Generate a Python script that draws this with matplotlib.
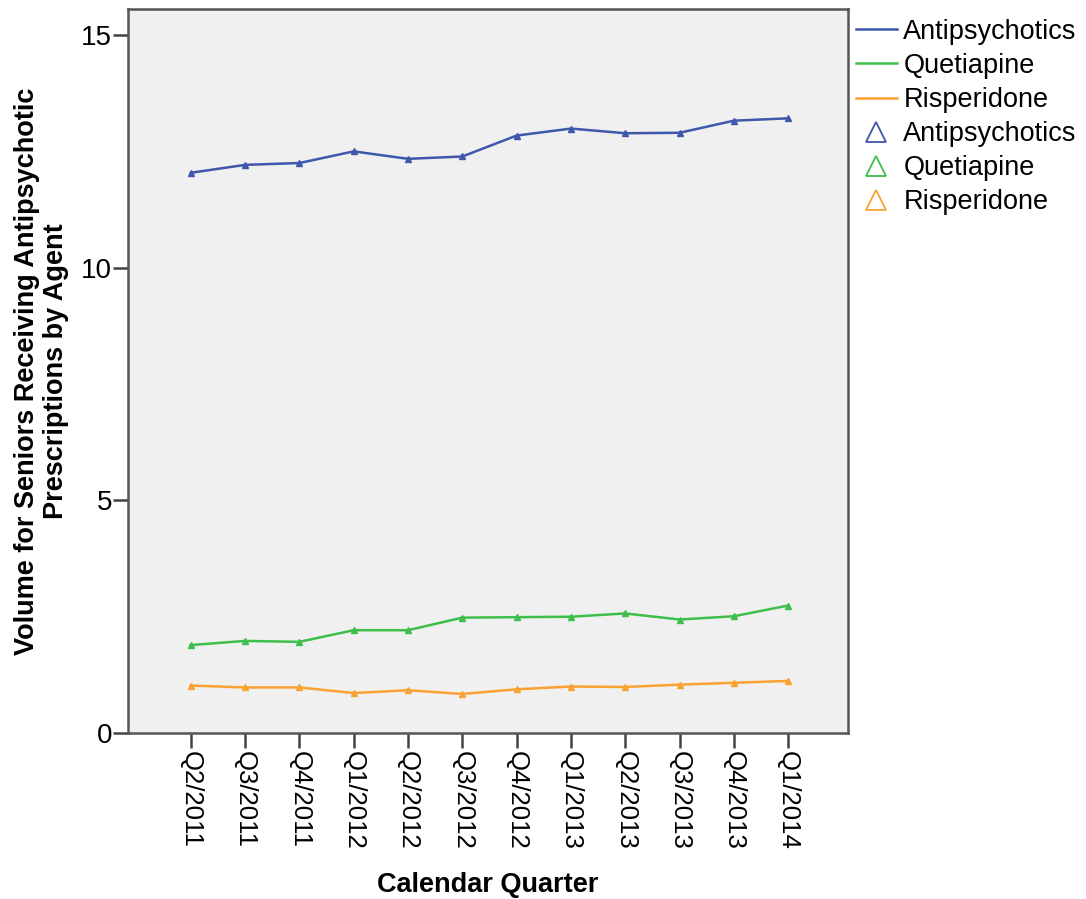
import matplotlib
matplotlib.use("Agg")
import matplotlib.pyplot as plt
from matplotlib.lines import Line2D

quarters = ["Q2/2011", "Q3/2011", "Q4/2011", "Q1/2012", "Q2/2012", "Q3/2012",
            "Q4/2012", "Q1/2013", "Q2/2013", "Q3/2013", "Q4/2013", "Q1/2014"]
antipsychotics = [12.04, 12.21, 12.25, 12.50, 12.34, 12.39, 12.84, 12.99, 12.89, 12.90, 13.16, 13.21]
quetiapine = [1.89, 1.98, 1.96, 2.21, 2.21, 2.48, 2.49, 2.50, 2.57, 2.44, 2.51, 2.74]
risperidone = [1.02, 0.98, 0.98, 0.86, 0.92, 0.84, 0.94, 1.00, 0.99, 1.04, 1.08, 1.12]

series_names = ["Antipsychotics", "Quetiapine", "Risperidone"]
colors = ["#3E58AC", "#3EBE4B", "#F9A231"]

plt.rcParams["font.family"] = ["Liberation Sans", "DejaVu Sans"]

fig = plt.figure(figsize=(10.86, 8.99), dpi=100)
ax = fig.add_axes([0.1179, 0.1846, 0.6629, 0.8054])
ax.set_facecolor("#F0F0F0")

xs = list(range(len(quarters)))
for vals, c in zip([antipsychotics, quetiapine, risperidone], colors):
    ax.plot(xs, vals, color=c, linewidth=1.8, marker="^", markersize=5,
            markerfacecolor=c, markeredgecolor=c)

ax.set_xlim(-1.155, 12.1)
ax.set_ylim(0, 15.56)
ax.set_yticks([0, 5, 10, 15])
ax.set_xticks(xs)
ax.set_xticklabels(quarters, rotation=270, fontsize=18.5)
ax.tick_params(axis="y", labelsize=20, length=11, width=1.8, color="#444444", pad=0.5)
ax.tick_params(axis="x", length=11, width=1.8, color="#444444", pad=2)

for side in ["left", "right", "top", "bottom"]:
    ax.spines[side].set_color("#555555")
    ax.spines[side].set_linewidth(1.8)

ax.set_xlabel("Calendar Quarter", fontsize=19.5, fontweight="bold", labelpad=16)
ax.set_ylabel("Volume for Seniors Receiving Antipsychotic\nPrescriptions by Agent",
              fontsize=19.5, fontweight="bold", labelpad=9, linespacing=1.15)

handles = [Line2D([], [], color=c, linewidth=1.8) for c in colors]
handles += [Line2D([], [], color=c, linestyle="none", marker="^", markersize=15,
                   markerfacecolor="none", markeredgewidth=1.3) for c in colors]
labels = series_names + series_names
ax.legend(handles, labels, loc="upper left", bbox_to_anchor=(0.996, 1.0015),
          frameon=False, fontsize=19.5, handlelength=1.5, handletextpad=0.25,
          labelspacing=0.3, borderaxespad=0.2, borderpad=0.2)

fig.savefig("out.png", dpi=100)
